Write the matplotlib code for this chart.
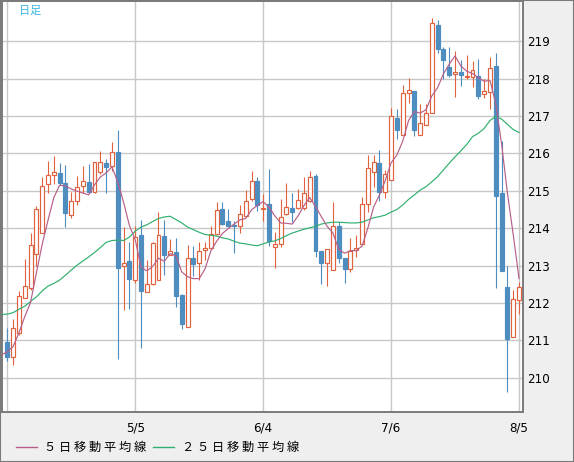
"""Daily candlestick chart (日足) with 5-day and 25-day moving averages."""
import matplotlib
matplotlib.use("Agg")
import matplotlib.pyplot as plt
from matplotlib.patches import Rectangle
import numpy as np

# --- data ------------------------------------------------------------------
opens = [210.96, 210.54, 211.20, 212.12, 212.41, 213.32, 213.86, 215.17, 215.41, 215.47,
         215.21, 214.34, 214.74, 215.14, 215.23, 214.97, 215.49, 215.74, 215.67, 216.03,
         212.99, 213.11, 212.61, 213.81, 212.30, 212.50, 212.62, 213.80, 213.29, 213.37,
         212.20, 211.36, 213.19, 213.08, 213.42, 213.46, 213.85, 214.52, 214.18, 214.08,
         214.05, 214.33, 214.79, 215.27, 214.52, 214.66, 213.50, 213.58, 214.38, 214.55,
         214.55, 214.53, 214.72, 215.39, 213.39, 213.07, 212.87, 214.06, 213.19, 212.92,
         213.41, 213.58, 214.64, 215.49, 215.74, 214.97, 215.28, 216.95, 216.49, 217.61,
         217.67, 216.50, 216.76, 217.07, 219.44, 218.80, 218.32, 218.13, 218.18, 218.04,
         218.05, 218.07, 217.58, 217.65, 218.34, 214.95, 212.42, 211.09, 212.09]
highs = [211.33, 211.57, 212.32, 213.17, 213.88, 214.59, 215.38, 215.79, 215.93, 215.74,
         215.69, 214.97, 215.39, 215.66, 215.73, 215.76, 216.06, 215.85, 216.31, 216.63,
         214.04, 213.62, 214.07, 214.23, 213.14, 213.63, 214.42, 214.21, 213.71, 213.73,
         212.24, 213.55, 213.51, 213.62, 213.62, 214.05, 214.70, 214.70, 214.50, 214.19,
         214.63, 215.01, 215.52, 215.38, 214.92, 215.59, 213.90, 214.79, 215.21, 214.95,
         215.04, 215.38, 215.54, 215.45, 213.39, 213.44, 214.71, 214.16, 213.19, 213.75,
         213.83, 214.83, 215.96, 215.96, 216.09, 215.55, 217.22, 217.19, 217.83, 218.02,
         217.67, 217.31, 217.32, 219.63, 219.57, 218.86, 218.86, 218.74, 218.50, 218.64,
         218.48, 218.52, 217.98, 218.57, 218.69, 216.33, 213.00, 212.34, 212.56]
lows = [210.44, 210.33, 211.15, 212.12, 212.34, 213.00, 213.86, 214.93, 215.18, 215.15,
        214.02, 214.28, 214.62, 214.93, 214.93, 214.93, 215.46, 214.95, 215.52, 210.50,
        211.82, 211.83, 212.54, 210.79, 212.30, 212.47, 212.62, 212.74, 213.29, 211.89,
        211.29, 211.36, 212.72, 212.62, 213.15, 213.46, 213.85, 214.08, 214.05, 213.33,
        213.88, 214.33, 214.74, 214.46, 214.20, 213.51, 212.94, 213.49, 214.36, 214.16,
        214.52, 214.49, 214.70, 213.23, 212.50, 212.46, 212.87, 213.06, 212.54, 212.82,
        213.23, 213.58, 214.42, 215.10, 214.73, 214.80, 215.29, 216.39, 216.49, 217.36,
        216.48, 216.50, 216.76, 217.07, 218.68, 218.00, 218.05, 217.52, 217.80, 217.98,
        217.77, 217.47, 217.49, 217.18, 212.40, 212.85, 209.62, 211.09, 211.71]
closes = [210.54, 211.32, 212.18, 212.45, 213.56, 214.51, 215.14, 215.41, 215.50, 215.20,
          214.41, 214.72, 215.11, 215.25, 214.97, 215.76, 215.76, 215.65, 216.05, 212.93,
          213.07, 212.64, 213.77, 212.32, 212.51, 213.59, 213.82, 213.29, 213.40, 212.19,
          211.44, 213.20, 213.04, 213.40, 213.46, 213.85, 214.49, 214.11, 214.05, 214.05,
          214.38, 214.72, 215.26, 214.63, 214.55, 213.65, 213.58, 214.30, 214.57, 214.43,
          214.76, 214.95, 215.37, 213.40, 213.07, 213.44, 214.05, 213.19, 212.90, 213.40,
          213.47, 214.64, 215.60, 215.76, 214.97, 215.44, 216.99, 216.64, 217.61, 217.70,
          216.64, 216.81, 217.07, 219.48, 218.80, 218.50, 218.11, 218.18, 218.11, 218.08,
          218.22, 217.55, 217.67, 218.30, 214.87, 212.85, 211.03, 212.10, 212.42]

# moving averages, first value is the day before the first visible candle
ma5 = [210.61, 210.69, 210.83, 211.20, 211.63, 212.01, 212.80, 213.57, 214.21, 214.82,
       215.15, 215.13, 215.05, 214.99, 214.94, 214.89, 215.16, 215.37, 215.48, 215.64,
       215.23, 214.69, 214.07, 213.69, 212.95, 212.86, 212.97, 213.20, 213.11, 213.32,
       213.26, 212.83, 212.70, 212.65, 212.65, 212.91, 213.39, 213.65, 213.86, 213.99,
       214.11, 214.22, 214.26, 214.49, 214.61, 214.71, 214.56, 214.33, 214.14, 214.13,
       214.11, 214.33, 214.60, 214.82, 214.58, 214.31, 214.05, 213.87, 213.43, 213.33,
       213.40, 213.40, 213.52, 214.00, 214.57, 214.89, 215.28, 215.75, 215.96, 216.33,
       216.88, 217.12, 217.08, 217.17, 217.54, 217.76, 218.13, 218.39, 218.61, 218.34,
       218.20, 218.14, 218.03, 217.93, 217.96, 217.32, 216.25, 214.94, 213.83, 212.65]
ma25 = [211.69, 211.70, 211.74, 211.83, 211.91, 212.04, 212.16, 212.32, 212.45, 212.52,
        212.61, 212.74, 212.88, 213.01, 213.12, 213.23, 213.35, 213.48, 213.62, 213.67,
        213.68, 213.67, 213.76, 213.92, 214.03, 214.09, 214.18, 214.26, 214.30, 214.32,
        214.23, 214.14, 214.03, 213.96, 213.89, 213.83, 213.81, 213.79, 213.74, 213.71,
        213.65, 213.60, 213.58, 213.55, 213.53, 213.58, 213.63, 213.66, 213.72, 213.80,
        213.87, 213.92, 213.97, 214.01, 214.05, 214.11, 214.14, 214.16, 214.16, 214.15,
        214.14, 214.14, 214.16, 214.22, 214.28, 214.31, 214.35, 214.43, 214.50, 214.62,
        214.77, 214.89, 215.02, 215.11, 215.24, 215.38, 215.56, 215.74, 215.91, 216.07,
        216.24, 216.45, 216.54, 216.67, 216.88, 216.99, 216.92, 216.78, 216.64, 216.56]

tick_pos = [0, 22, 44, 66, 88]
tick_labels = ["", "5/5", "6/4", "7/6", "8/5"]
price_ticks = list(range(210, 220))

UP = "#e0623e"
DOWN = "#4d8dc0"
MA5_C = "#b75f88"
MA25_C = "#2fb06e"
GRID = "#c8c8c8"
FRAME = "#7a7a7a"
JP = ["Noto Sans CJK JP", "DejaVu Sans"]

W, H = 574, 462
fig = plt.figure(figsize=(W / 100, H / 100), dpi=100, facecolor="#efefef")
ax = fig.add_axes([2 / W, 1 - 412 / H, 521 / W, 411 / H], facecolor="white")

x = np.arange(len(closes))
o = np.asarray(opens)
c = np.asarray(closes)
hi = np.asarray(highs)
lo = np.asarray(lows)
up = c >= o
lo_body = np.minimum(o, c)
hi_body = np.maximum(o, c)

# wicks go under the bodies so hollow bodies stay clean
ax.vlines(x[up], lo[up], hi[up], color=UP, lw=0.8, zorder=2)
ax.vlines(x[~up], lo[~up], hi[~up], color=DOWN, lw=0.8, zorder=2)
bw = 0.68
ax.bar(x[up], (hi_body - lo_body)[up], bottom=lo_body[up], width=bw, facecolor="white",
       edgecolor=UP, lw=0.85, zorder=3)
ax.bar(x[~up], (hi_body - lo_body)[~up], bottom=lo_body[~up], width=bw, facecolor=DOWN,
       edgecolor=DOWN, lw=0.85, zorder=3)

xm = np.arange(-1, len(closes))
ax.plot(xm, ma25, color=MA25_C, lw=0.85, zorder=4)
ax.plot(xm, ma5, color=MA5_C, lw=0.85, zorder=4)

ax.set_xlim(-0.91, 88.68)
ax.set_ylim(209.08, 220.08)
ax.set_xticks(tick_pos)
ax.set_xticklabels(tick_labels)
ax.set_yticks(price_ticks)
ax.yaxis.tick_right()
ax.tick_params(axis="both", length=0, labelsize=8.6, colors="black")
ax.tick_params(axis="y", pad=3)
ax.tick_params(axis="x", pad=7)
ax.grid(True, color=GRID, lw=1.0, zorder=0)
ax.set_axisbelow(True)
for s in ax.spines.values():
    s.set_color(FRAME)
    s.set_linewidth(1.4)

ax.text(17 / 521, 1 - 10 / 411, "日足", transform=ax.transAxes, color="#38b4e6",
        fontsize=8, va="center", ha="left", family=JP)

# legend along the bottom
ly = 1 - 447 / H
fig.add_artist(plt.Line2D([16 / W, 37 / W], [ly, ly], color=MA5_C, lw=1.0))
fig.text(44 / W, ly, "５ 日 移 動 平 均 線", fontsize=8.8, va="center", ha="left", family=JP)
fig.add_artist(plt.Line2D([153 / W, 174 / W], [ly, ly], color=MA25_C, lw=1.0))
fig.text(182 / W, ly, "２ ５ 日 移 動 平 均 線", fontsize=8.8, va="center", ha="left", family=JP)

fig.add_artist(Rectangle((0, 0), 1, 1, transform=fig.transFigure, fill=False,
                         edgecolor=FRAME, lw=1.5))

fig.savefig("out.png", dpi=100, facecolor=fig.get_facecolor())
plt.close(fig)
